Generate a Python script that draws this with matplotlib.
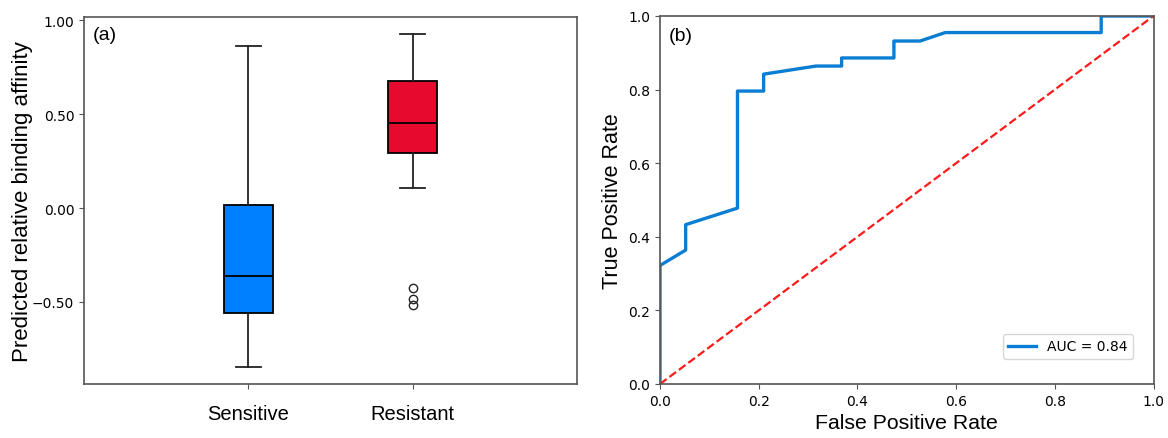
import matplotlib
matplotlib.use("Agg")
import matplotlib.pyplot as plt
from matplotlib.ticker import FuncFormatter

# ---- data (a) box plot ----
groups = ["Sensitive", "Resistant"]
box_colors = ["#0080FF", "#E80A2E"]
whis_low = [-0.848, 0.106]
q1 = [-0.558, 0.293]
median = [-0.362, 0.454]
q3 = [0.018, 0.677]
whis_high = [0.862, 0.929]
fliers = [[], [-0.424, -0.484, -0.516]]

# ---- data (b) ROC curve ----
fpr = [0.0, 0.0, 0.052, 0.052, 0.157, 0.157, 0.210, 0.210, 0.316, 0.368, 0.368,
       0.474, 0.474, 0.527, 0.578, 0.894, 0.894, 1.0]
tpr = [0.0, 0.322, 0.364, 0.433, 0.478, 0.796, 0.796, 0.842, 0.864, 0.864, 0.886,
       0.886, 0.932, 0.932, 0.955, 0.955, 1.0, 1.0]
auc_label = "AUC = 0.84"

W, H = 1168, 439
fig = plt.figure(figsize=(W / 100, H / 100), dpi=100)
ax1 = fig.add_axes([84 / W, (H - 385) / H, (577 - 84) / W, (385 - 18) / H])
ax2 = fig.add_axes([660 / W, (H - 385) / H, (1153.5 - 660) / W, (385 - 17) / H])

sans = "Liberation Sans"
spine_col = "#555555"

stats = []
for i, g in enumerate(groups):
    stats.append(dict(label=g, whislo=whis_low[i], q1=q1[i], med=median[i],
                      q3=q3[i], whishi=whis_high[i], fliers=fliers[i]))
bp = ax1.bxp(stats, positions=[1, 2], widths=0.3, patch_artist=True,
             boxprops=dict(edgecolor="black", linewidth=1.3),
             medianprops=dict(color="black", linewidth=1.3),
             whiskerprops=dict(color="#222222", linewidth=1.3),
             capprops=dict(color="#222222", linewidth=1.3),
             flierprops=dict(marker="o", markerfacecolor="none",
                             markeredgecolor="#222222", markersize=6))
for patch, c in zip(bp["boxes"], box_colors):
    patch.set_facecolor(c)
ax1.set_xlim(0, 3)
ax1.set_yticks([-0.5, 0.0, 0.5, 1.0])
ax1.yaxis.set_major_formatter(
    FuncFormatter(lambda v, p: f"{v:.2f}".replace("-", "\u2212")))
ax1.tick_params(axis="y", labelsize=10)
ax1.tick_params(axis="x", labelsize=14.5, pad=11)
for lab in ax1.get_xticklabels():
    lab.set_fontfamily(sans)
ax1.set_ylabel("Predicted relative binding affinity", fontsize=16, family=sans,
               labelpad=-1)
ax1.text(0.018, 0.975, "(a)", transform=ax1.transAxes, fontsize=14, family=sans,
         va="top", ha="left")

ax2.plot(fpr, tpr, color="#0A7ED2", linewidth=2.4, label=auc_label)
ax2.plot([0, 1], [0, 1], color="#FF1A1A", linestyle="--", linewidth=1.6)
ax2.set_xlim(0, 1)
ax2.set_ylim(0, 1)
ax2.tick_params(labelsize=10)
ax2.set_xlabel("False Positive Rate", fontsize=15.3, family=sans)
ax2.set_ylabel("True Positive Rate", fontsize=15.5, family=sans)
ax2.text(0.018, 0.97, "(b)", transform=ax2.transAxes, fontsize=14, family=sans,
         va="top", ha="left")
ax2.legend(loc="lower right", fontsize=10, borderaxespad=0,
           bbox_to_anchor=(0.959, 0.068))

for ax in (ax1, ax2):
    for s in ax.spines.values():
        s.set_color(spine_col)
        s.set_linewidth(1.2)
    ax.tick_params(color=spine_col)

fig.savefig("out.png", dpi=100)
